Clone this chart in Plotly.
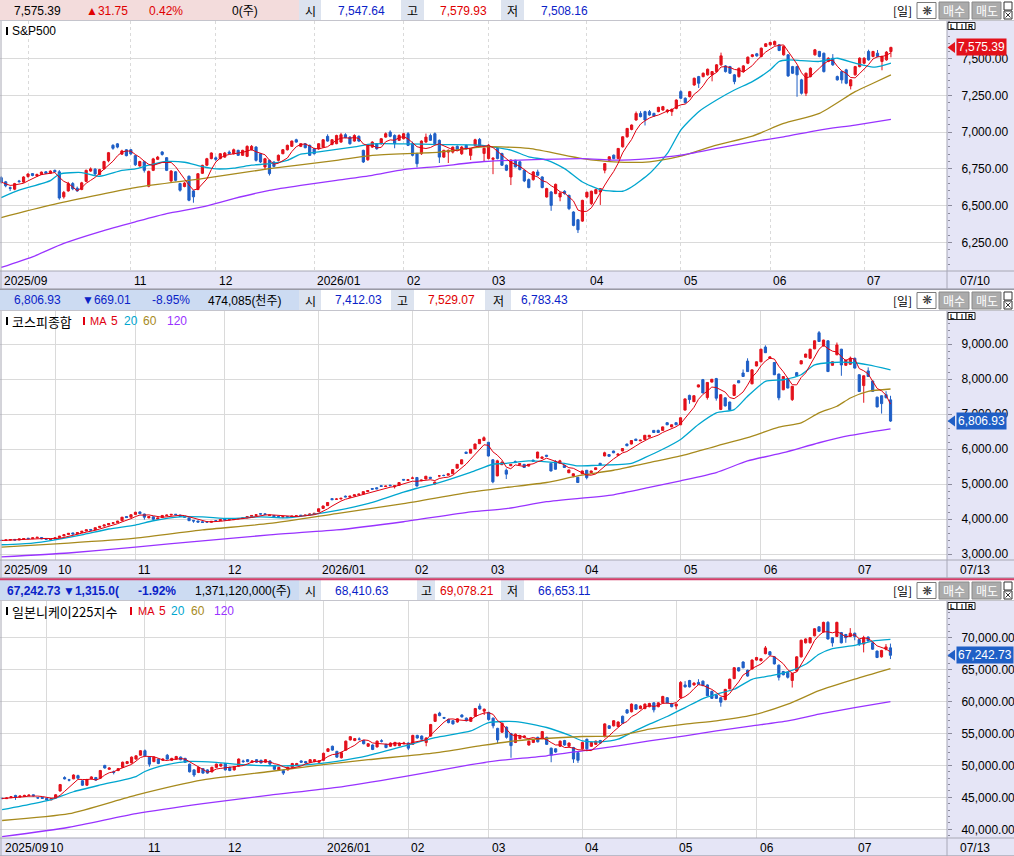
import pandas as pd
import plotly.graph_objects as go

W, H = 1014, 856
PLOT_R = 947  # right edge of the price area (px)

RED = "#E3111B"
BLUE = "#1F5FC6"
TXT_BLUE = "#0A22C8"
TXT_RED = "#E00000"
MA_COLOR = {5: "#E00010", 20: "#00A6CF", 60: "#A78A1D", 120: "#9933FF"}
GRID = "#DADADA"
BAND = "#E5E5F6"
NUM_FONT = "Liberation Sans, Noto Sans CJK KR, sans-serif"
KR_FONT = "Noto Sans CJK KR, Liberation Sans, sans-serif"

# ---------------- S&P500 (daily, 2025-09-23 .. 2026-07-10) ----------------
SPX_MONTH_DAYS = [6, 23, 19, 22, 20, 19, 22, 21, 20, 21, 7]
SPX_MONTH_LABELS = ["2025/09", "", "11", "12", "2026/01", "02", "03", "04", "05", "06", "07"]
SPX_OPEN = [
    6690, 6662, 6622, 6612, 6668, 6660,
    6698, 6718, 6702, 6712, 6730, 6720, 6740, 6730, 6560, 6600, 6650, 6618, 6610, 6665, 6735, 6748, 6712, 6750, 6805, 6910, 6920, 6850, 6880,
    6880, 6840, 6770, 6798, 6632, 6740, 6815, 6865, 6826, 6668, 6730, 6650, 6630, 6700, 6600, 6610, 6720, 6775, 6820,
    6825, 6820, 6830, 6864, 6853, 6876, 6842, 6835, 6880, 6898, 6853, 6763, 6808, 6797, 6808, 6853, 6880, 6903, 6948, 6903, 6921, 6910,
    6887, 6887, 6898, 6971, 6916, 6921, 6932, 6982, 6966, 6939, 6971, 6876, 6812, 6898, 6921, 6921, 6966, 7000, 6977, 6944,
    6955, 6989, 6921, 6853, 6853, 6932, 6977, 6989, 6944, 6830, 6864, 6864, 6903, 6853, 6910, 6842, 6910, 6950, 6855,
    6820, 6815, 6889, 6854, 6775, 6695, 6809, 6798, 6741, 6677, 6677, 6729, 6695, 6559, 6593, 6582, 6559, 6598, 6570, 6457, 6404, 6395,
    6559, 6514, 6582, 6593, 6741, 6809, 6843, 6820, 6900, 6968, 7018, 7082, 7127, 7139, 7139, 7127, 7139, 7150, 7139, 7139, 7161,
    7275, 7230, 7241, 7320, 7377, 7377, 7389, 7389, 7411, 7457, 7450, 7445, 7389, 7377, 7411, 7468, 7514, 7532, 7514, 7582,
    7593, 7593, 7593, 7525, 7525, 7445, 7445, 7355, 7264, 7377, 7525, 7548, 7536, 7480, 7502, 7377, 7411, 7423, 7314, 7389, 7445,
    7468, 7548, 7514, 7536, 7480, 7491, 7547.64,
]
SPX_HIGH = [
    6700, 6668, 6630, 6655, 6675, 6700,
    6720, 6722, 6718, 6732, 6735, 6740, 6745, 6742, 6600, 6662, 6660, 6630, 6662, 6745, 6760, 6755, 6750, 6805, 6865, 6918, 6925, 6880, 6885,
    6885, 6845, 6805, 6805, 6738, 6825, 6838, 6870, 6830, 6742, 6735, 6655, 6660, 6705, 6605, 6722, 6778, 6825, 6862,
    6835, 6858, 6865, 6875, 6888, 6880, 6880, 6910, 6912, 6905, 6858, 6825, 6812, 6800, 6848, 6885, 6915, 6942, 6955, 6925, 6925, 6915,
    6892, 6925, 6952, 6985, 6952, 6982, 6995, 6992, 6972, 6985, 6978, 6880, 6915, 6938, 6925, 6960, 6998, 7012, 6985, 6985,
    6995, 7000, 6935, 6860, 6944, 6990, 6990, 6998, 6950, 6880, 6882, 6902, 6910, 6905, 6915, 6892, 6955, 6960, 6895,
    6918, 6830, 6895, 6860, 6780, 6815, 6812, 6805, 6745, 6685, 6735, 6745, 6700, 6622, 6600, 6650, 6590, 6605, 6575, 6462, 6410, 6540,
    6595, 6602, 6615, 6620, 6790, 6836, 6848, 6892, 6972, 7028, 7052, 7140, 7142, 7145, 7150, 7132, 7172, 7178, 7155, 7160, 7222,
    7285, 7236, 7280, 7370, 7382, 7405, 7432, 7415, 7462, 7540, 7455, 7450, 7395, 7438, 7455, 7514, 7530, 7538, 7575, 7605,
    7614, 7622, 7598, 7588, 7530, 7450, 7450, 7362, 7405, 7440, 7565, 7552, 7540, 7508, 7530, 7384, 7416, 7430, 7360, 7450, 7508,
    7508, 7560, 7552, 7558, 7520, 7550, 7579.93,
]
SPX_LOW = [
    6650, 6625, 6600, 6605, 6655, 6655,
    6690, 6700, 6698, 6708, 6715, 6715, 6725, 6540, 6548, 6595, 6605, 6595, 6605, 6660, 6730, 6705, 6708, 6745, 6795, 6880, 6890, 6845, 6835,
    6845, 6770, 6765, 6725, 6625, 6735, 6810, 6840, 6735, 6660, 6665, 6595, 6625, 6530, 6520, 6605, 6715, 6770, 6815,
    6805, 6815, 6825, 6850, 6848, 6838, 6838, 6830, 6875, 6800, 6790, 6745, 6705, 6760, 6800, 6850, 6875, 6900, 6928, 6898, 6890, 6838,
    6848, 6880, 6895, 6935, 6910, 6918, 6928, 6958, 6915, 6935, 6932, 6790, 6805, 6892, 6880, 6915, 6962, 6965, 6890, 6940,
    6950, 6905, 6835, 6760, 6845, 6928, 6940, 6915, 6790, 6825, 6790, 6855, 6875, 6845, 6880, 6810, 6905, 6898, 6800,
    6815, 6714, 6815, 6770, 6735, 6640, 6760, 6740, 6660, 6618, 6670, 6700, 6618, 6555, 6465, 6578, 6530, 6575, 6470, 6360, 6314, 6390,
    6550, 6505, 6578, 6505, 6720, 6800, 6815, 6815, 6895, 6962, 7012, 7078, 7100, 7045, 7112, 7105, 7135, 7145, 7128, 7110, 7155,
    7225, 7195, 7236, 7315, 7300, 7372, 7384, 7345, 7405, 7450, 7405, 7395, 7325, 7370, 7405, 7462, 7508, 7512, 7508, 7578,
    7588, 7588, 7550, 7520, 7375, 7395, 7240, 7255, 7245, 7372, 7520, 7508, 7405, 7475, 7450, 7350, 7330, 7325, 7290, 7384, 7440,
    7462, 7485, 7508, 7508, 7420, 7485, 7508.16,
]
SPX_CLOSE = [
    6660, 6635, 6618, 6650, 6664, 6695,
    6715, 6705, 6712, 6728, 6720, 6735, 6730, 6552, 6590, 6650, 6615, 6600, 6655, 6740, 6750, 6715, 6745, 6800, 6860, 6890, 6898, 6872, 6840,
    6852, 6778, 6800, 6740, 6733, 6818, 6830, 6848, 6740, 6735, 6672, 6605, 6654, 6537, 6560, 6717, 6774, 6819, 6858,
    6815, 6853, 6858, 6855, 6880, 6842, 6876, 6903, 6903, 6808, 6797, 6819, 6718, 6767, 6842, 6880, 6910, 6939, 6932, 6921, 6894, 6842,
    6853, 6921, 6948, 6939, 6948, 6977, 6982, 6962, 6921, 6977, 6939, 6797, 6910, 6932, 6887, 6955, 6989, 6971, 6921, 6977,
    6989, 6910, 6842, 6785, 6939, 6966, 6944, 6921, 6830, 6876, 6876, 6898, 6880, 6898, 6887, 6887, 6948, 6904, 6890,
    6911, 6822, 6820, 6775, 6741, 6809, 6764, 6745, 6668, 6623, 6729, 6707, 6623, 6616, 6502, 6645, 6586, 6582, 6480, 6366, 6336, 6536,
    6591, 6598, 6609, 6616, 6786, 6832, 6820, 6889, 6968, 7025, 7048, 7127, 7105, 7082, 7116, 7109, 7168, 7173, 7150, 7155, 7218,
    7230, 7200, 7275, 7366, 7332, 7400, 7427, 7411, 7457, 7518, 7411, 7400, 7343, 7434, 7450, 7509, 7525, 7518, 7570, 7600,
    7609, 7616, 7555, 7582, 7382, 7400, 7389, 7264, 7400, 7434, 7559, 7514, 7411, 7502, 7457, 7355, 7355, 7332, 7355, 7445, 7502,
    7502, 7491, 7548, 7514, 7514, 7543.64, 7575.39,
]
# moving averages (day index, value)
SPX_MA20_IDX = [0, 4, 11, 13, 18, 22, 27, 30, 33, 37, 41, 45, 48, 52, 56, 60, 64, 67, 71, 79, 83, 90, 98, 107, 114,
                118, 122, 126, 130, 134, 137, 139, 141, 145, 149, 152, 156, 160, 164, 168, 172, 174, 176, 179, 183, 187,
                191, 195, 197, 199]
SPX_MA20 = [6555, 6605, 6670, 6715, 6725, 6700, 6740, 6750, 6775, 6800, 6795, 6765, 6750, 6755, 6775, 6785, 6808, 6850,
            6865, 6900, 6920, 6920, 6915, 6911, 6877, 6832, 6810, 6752, 6661, 6609, 6598, 6598, 6627, 6718, 6855, 7014,
            7139, 7218, 7286, 7343, 7423, 7480, 7490, 7486, 7480, 7502, 7468, 7441, 7450, 7468]
SPX_MA60_IDX = [0, 11, 30, 45, 60, 75, 83, 98, 108, 118, 130, 137, 145, 152, 160, 168, 175, 183, 191, 195, 199]
SPX_MA60 = [6419, 6503, 6623, 6684, 6751, 6808, 6842, 6864, 6900, 6889, 6820, 6798, 6798, 6836, 6911, 6973, 7059, 7127,
            7275, 7332, 7389]
SPX_MA120_IDX = [0, 7, 14, 22, 30, 37, 45, 52, 60, 67, 75, 83, 90, 98, 108, 130, 137, 145, 152, 160, 168, 175, 183, 191, 199]
SPX_MA120 = [6080, 6152, 6243, 6322, 6390, 6446, 6491, 6548, 6604, 6638, 6672, 6706, 6745, 6767, 6800, 6820, 6809, 6820,
             6843, 6889, 6934, 6968, 7014, 7048, 7086]
SPX_TICKS = [6250, 6500, 6750, 7000, 7250, 7500]

# ---------------- 코스피종합 (daily, 2025-09-15 .. 2026-07-13) ----------------
KS_MONTH_DAYS = [12, 18, 20, 21, 21, 17, 21, 22, 18, 21, 9]
KS_MONTH_LABELS = ["2025/09", "10", "11", "12", "2026/01", "02", "03", "04", "05", "06", "07"]
KS_OPEN = [
    3400, 3395, 3405, 3425, 3408, 3435, 3460, 3448, 3468, 3480, 3445, 3415,
    3435, 3480, 3525, 3565, 3610, 3585, 3625, 3665, 3710, 3700, 3765, 3805, 3840, 3885, 3905, 3960, 4080, 4060,
    4140, 4210, 4150, 4040, 4070, 4000, 4050, 4100, 4120, 4145, 4120, 4085, 4040, 3970, 3950, 3930, 3925, 3915, 3965, 3960,
    4000, 3985, 3990, 4015, 4020, 4040, 4080, 4110, 4160, 4155, 4110, 4110, 4080, 4055, 4075, 4065, 4090, 4115, 4105, 4125, 4150,
    4220, 4310, 4390, 4590, 4570, 4580, 4660, 4630, 4665, 4700, 4720, 4790, 4880, 4900, 4960, 4935, 4975, 4930, 4970, 5140, 5110,
    5170, 5195, 5100, 5150, 5200, 5010, 5240, 5255, 5260, 5300, 5460, 5580, 5920, 5890, 6010, 6160, 6250,
    6200, 5700, 5240, 5560, 5400, 5530, 5650, 5560, 5570, 5520, 5690, 5750, 5740, 5830, 5600, 5650, 5600, 5540, 5330, 5240, 5200,
    5300, 5400, 5330, 5420, 5600, 5810, 5850, 5950, 5830, 5950, 6150, 6150, 6290, 6240, 6280, 6350, 6540, 6540, 6540, 6760, 6640, 6760,
    6700, 7120, 7540, 7360, 7780, 7990, 7480, 7920, 8020, 7140, 7470, 7350, 7540, 7960, 8180, 8520, 7870, 8380,
    8500, 8920, 8600, 8480, 8150, 7700, 8020, 7420, 8190, 8440, 8630, 8600, 8870, 9330, 8950, 9100, 8400, 8700, 8860, 8400, 8430,
    8600, 8130, 7820, 8240, 7950, 7490, 7530, 7560, 7412.03,
]
KS_HIGH = [
    3410, 3415, 3425, 3430, 3445, 3455, 3465, 3475, 3490, 3485, 3450, 3438,
    3478, 3525, 3565, 3605, 3615, 3625, 3665, 3705, 3715, 3765, 3805, 3845, 3885, 3905, 3955, 4065, 4090, 4140,
    4215, 4225, 4160, 4090, 4080, 4050, 4120, 4130, 4150, 4150, 4125, 4090, 4045, 3975, 3960, 3935, 3935, 3945, 3975, 3998,
    4005, 4000, 4015, 4030, 4045, 4085, 4115, 4135, 4165, 4160, 4125, 4115, 4085, 4085, 4080, 4095, 4110, 4120, 4125, 4155, 4180,
    4310, 4390, 4490, 4600, 4600, 4610, 4680, 4670, 4705, 4725, 4795, 4825, 4890, 4910, 4970, 4955, 4985, 4970, 5055, 5150, 5135,
    5220, 5200, 5130, 5240, 5210, 5080, 5260, 5275, 5305, 5425, 5580, 5705, 5930, 6010, 6160, 6290, 6370,
    6210, 5720, 5700, 5660, 5450, 5580, 5680, 5600, 5580, 5580, 5700, 5930, 5790, 5840, 5620, 5690, 5700, 5560, 5420, 5310, 5210,
    5390, 5410, 5390, 5480, 5610, 5930, 5860, 5960, 5890, 6030, 6160, 6260, 6300, 6275, 6410, 6410, 6550, 6560, 6650, 6770, 6710, 6770,
    6910, 7450, 7560, 7540, 7850, 8010, 7920, 8010, 8040, 7570, 7480, 7360, 7850, 7970, 8280, 8600, 8280, 8510,
    8870, 8970, 8660, 8490, 8160, 8090, 8040, 7810, 8210, 8540, 8730, 8870, 9110, 9380, 9130, 9110, 8510, 9050, 8870, 8560, 8650,
    8620, 8140, 8110, 8340, 7960, 7500, 7540, 7660, 7529.07,
]
KS_LOW = [
    3385, 3390, 3400, 3398, 3405, 3430, 3440, 3445, 3462, 3432, 3418, 3410,
    3430, 3475, 3520, 3560, 3570, 3580, 3620, 3660, 3680, 3695, 3760, 3800, 3835, 3875, 3900, 3955, 4040, 4055,
    4135, 4150, 3990, 4030, 3985, 3995, 4045, 4095, 4115, 4120, 4070, 4050, 3950, 3900, 3910, 3900, 3905, 3910, 3945, 3955,
    3970, 3975, 3985, 4005, 4015, 4035, 4075, 4105, 4140, 4130, 4100, 4060, 4050, 4030, 4050, 4060, 4085, 4100, 4100, 4120, 4145,
    4215, 4305, 4385, 4550, 4560, 4575, 4630, 4625, 4660, 4695, 4715, 4785, 4850, 4860, 4930, 4930, 4955, 4880, 4965, 5110, 5105,
    5150, 4940, 5090, 5145, 5160, 4980, 5200, 5230, 5255, 5295, 5455, 5575, 5870, 5885, 6005, 6150, 6240,
    5790, 5030, 5230, 5550, 5150, 5520, 5610, 5550, 5470, 5510, 5650, 5740, 5735, 5790, 5370, 5420, 5590, 5470, 5320, 5200, 5040,
    5290, 5140, 5325, 5415, 5540, 5800, 5790, 5890, 5825, 5945, 6090, 6140, 6240, 6235, 6275, 6340, 6470, 6470, 6530, 6690, 6630, 6690,
    6690, 7110, 7300, 7350, 7770, 7600, 7420, 7910, 7390, 7120, 7220, 7100, 7530, 7890, 8070, 8210, 7860, 8370,
    8490, 8750, 8590, 8120, 7400, 7690, 7740, 7380, 8090, 8430, 8620, 8590, 8860, 9070, 8940, 8210, 8390, 8690, 8100, 8390, 8420,
    8310, 7640, 7330, 8070, 7640, 7200, 7020, 7450, 6783.43,
]
KS_CLOSE = [
    3395, 3410, 3420, 3405, 3440, 3450, 3445, 3470, 3486, 3440, 3425, 3430,
    3470, 3520, 3560, 3600, 3580, 3620, 3660, 3700, 3690, 3760, 3800, 3840, 3880, 3900, 3950, 4060, 4050, 4130,
    4200, 4160, 4060, 4080, 4000, 4040, 4110, 4120, 4140, 4130, 4080, 4060, 3960, 3950, 3920, 3910, 3920, 3940, 3960, 3990,
    3980, 3990, 4010, 4020, 4040, 4080, 4110, 4130, 4150, 4140, 4120, 4070, 4060, 4080, 4060, 4090, 4100, 4110, 4120, 4150, 4170,
    4300, 4380, 4480, 4560, 4580, 4600, 4640, 4660, 4700, 4720, 4790, 4820, 4860, 4870, 4940, 4950, 4960, 4960, 5050, 5120, 5130,
    5180, 4950, 5120, 5230, 5170, 5060, 5240, 5250, 5300, 5420, 5570, 5700, 5880, 6000, 6150, 6282, 6330,
    5810, 5070, 5670, 5620, 5290, 5570, 5620, 5590, 5480, 5570, 5660, 5920, 5780, 5800, 5380, 5430, 5670, 5480, 5410, 5300, 5050,
    5380, 5190, 5380, 5470, 5550, 5900, 5800, 5900, 5860, 6020, 6100, 6250, 6250, 6260, 6400, 6400, 6480, 6480, 6640, 6700, 6700, 6700,
    6900, 7440, 7420, 7530, 7840, 7610, 7910, 8000, 7460, 7560, 7240, 7130, 7840, 7900, 8080, 8220, 8270, 8500,
    8860, 8760, 8640, 8130, 7470, 8080, 7750, 7800, 8100, 8530, 8720, 8860, 9100, 9080, 9120, 8220, 8500, 8980, 8410, 8550, 8600,
    8320, 7650, 8100, 8080, 7655, 7210, 7305, 7475.94, 6806.93,
]
KS_MA20_IDX = [0, 7, 12, 18, 24, 30, 34, 40, 45, 51, 58, 64, 72, 79, 82, 90, 93, 97, 105, 110, 113, 118, 126, 129, 133,
               141, 144, 148, 152, 156, 160, 164, 167, 171, 175, 179, 182, 186, 190, 194, 199]
KS_MA20 = [3272, 3319, 3413, 3554, 3723, 3836, 3958, 4070, 4070, 4023, 4070, 4042, 4183, 4352, 4446, 4775, 4887, 5009,
           5338, 5573, 5600, 5667, 5600, 5525, 5543, 5600, 5761, 6000, 6282, 6708, 7040, 7134, 7513, 7940, 7987, 8130,
           8413, 8480, 8480, 8413, 8270]
KS_MA60_IDX = [0, 15, 30, 45, 60, 75, 90, 105, 113, 122, 129, 137, 145, 152, 160, 167, 174, 179, 183, 187, 190, 194, 199]
KS_MA60 = [3206, 3319, 3460, 3695, 3882, 4164, 4446, 4775, 4909, 5051, 5240, 5401, 5619, 5809, 6093, 6330, 6633, 6756,
           7040, 7229, 7466, 7655, 7722]
KS_MA120_IDX = [0, 15, 30, 45, 60, 75, 90, 105, 113, 122, 137, 145, 152, 160, 167, 175, 183, 190, 199]
KS_MA120 = [2925, 3037, 3206, 3385, 3554, 3695, 3930, 4211, 4305, 4502, 4700, 4909, 5098, 5335, 5667, 5903, 6187, 6396, 6585]
KS_TICKS = [3000, 4000, 5000, 6000, 7000, 8000, 9000]

# ---------------- 일본니케이225지수 (daily, 2025-09-16 .. 2026-07-13) ----------------
NK_MONTH_DAYS = [10, 22, 18, 22, 19, 18, 21, 21, 18, 22, 9]
NK_MONTH_LABELS = ["2025/09", "10", "11", "12", "2026/01", "02", "03", "04", "05", "06", "07"]
NK_OPEN = [
    44850, 44800, 44950, 45300, 45050, 45150, 45250, 45400, 44950, 45000,
    44850, 44600, 44900, 46000, 48100, 47750, 47900, 48400, 47600, 46900, 47900, 48100, 48000, 50000, 49400, 49000, 49200, 49700, 50300, 50400, 51000, 51600,
    52300, 51300, 50600, 51000, 50800, 51600, 50800, 51000, 51300, 51100, 50200, 49300, 48900, 49500, 49300, 49000, 49700, 49900,
    50300, 49700, 49300, 49900, 50700, 50900, 50500, 50900, 50800, 50500, 50700, 50000, 49300, 49200, 49300, 49700, 50000, 50700, 50600, 50500, 50600, 50500,
    50800, 52200, 53000, 52200, 51200, 52400, 54000, 53900, 54150, 53900, 53000, 53200, 52900, 53850, 53300, 53000, 53100, 53100, 53400,
    53500, 53300, 54700, 54600, 53600, 54600, 56900, 58200, 57500, 57200, 57000, 56800, 57900, 57400, 56900, 57700, 59300, 58500,
    58300, 57400, 55800, 55200, 56000, 55000, 53600, 54200, 54400, 53200, 53600, 54400, 54200, 54400, 52700, 52600, 53000, 53900, 53000, 52800, 52000,
    52600, 54100, 53000, 53300, 53900, 54500, 56200, 56200, 56100, 57700, 58700, 58400, 59500, 58900, 58900, 59200, 59800, 59200, 59800, 60600, 59700,
    59300, 60600, 62600, 63300, 62600, 63000, 63200, 62600, 61600, 61000, 60600, 60300, 62000, 63600, 65300, 66200, 64900, 65100,
    66500, 66400, 67500, 67800, 67000, 65700, 64700, 64600, 63300, 64800, 67000, 69200, 69200, 70300, 71700, 70900, 72400, 70000, 70200, 70800, 70500, 70200,
    70700, 69700, 69000, 70100, 69200, 67900, 67000, 68200, 68410.63,
]
NK_HIGH = [
    44950, 45000, 45200, 45400, 45300, 45400, 45450, 45450, 45050, 45050,
    44900, 44900, 45500, 47100, 48300, 47900, 48600, 48550, 47700, 47900, 48300, 48200, 49300, 50100, 49700, 49200, 49600, 50600, 50700, 51400, 51600, 52400,
    52500, 51400, 51400, 51100, 51100, 51800, 51200, 51500, 51400, 51200, 50300, 49400, 49800, 49600, 49400, 49800, 50300, 50300,
    50400, 49800, 49900, 51100, 50900, 51000, 50800, 51000, 50900, 51000, 50800, 50100, 49800, 49300, 49800, 50400, 50400, 50800, 50700, 51000, 51000, 50800,
    52000, 52700, 53100, 52300, 52100, 53900, 54600, 54300, 54400, 54000, 53500, 53300, 53900, 54100, 53400, 53600, 53700, 53600, 53700,
    53600, 54800, 54800, 54700, 54400, 56500, 58100, 58400, 57600, 57300, 57100, 57400, 58000, 57500, 57600, 59000, 59700, 58900,
    58400, 57500, 55900, 56700, 56100, 55100, 55000, 54700, 54700, 53900, 54100, 54500, 55400, 54500, 52800, 52700, 53900, 54000, 53600, 52900, 52100,
    53700, 54200, 53700, 53900, 54000, 56600, 56300, 57100, 56900, 57800, 58800, 59700, 59600, 59400, 59700, 59800, 59900, 59900, 60900, 60700, 59800,
    59700, 63200, 63200, 63400, 63000, 63500, 63300, 62700, 61700, 61100, 60700, 62000, 63600, 65400, 65400, 66300, 65000, 66600,
    67000, 66800, 68700, 67900, 67100, 65800, 64800, 64700, 64500, 67100, 69700, 69900, 70100, 71500, 71800, 72500, 72600, 70100, 72500, 70900, 70600, 71500,
    70800, 69800, 70300, 70200, 69300, 68000, 68100, 69000, 69078.21,
]
NK_LOW = [
    44700, 44750, 44900, 44600, 45000, 45100, 45200, 45150, 44800, 44750,
    44500, 44550, 44850, 45900, 47800, 47500, 47850, 47900, 46800, 46800, 47800, 47600, 47900, 49500, 49300, 48600, 49100, 49600, 50200, 50300, 50900, 51500,
    51400, 49800, 50500, 50200, 50700, 50900, 50700, 50900, 50800, 50400, 48900, 48200, 48800, 48700, 48700, 48900, 49600, 49800,
    49200, 49100, 49200, 49800, 50400, 50500, 50400, 50400, 50300, 50400, 50100, 49300, 49200, 48500, 49200, 49600, 49900, 50400, 50300, 50400, 50500, 50400,
    50700, 52100, 52300, 51200, 51100, 52300, 53900, 53800, 53900, 53300, 52900, 52400, 52800, 53600, 52700, 52900, 53000, 53000, 53300,
    52400, 53200, 54200, 54000, 53000, 54500, 56800, 57700, 57300, 56600, 56400, 56700, 57500, 56900, 56800, 57600, 58700, 57900,
    57000, 55800, 53400, 55100, 54200, 51200, 53500, 54100, 54300, 53100, 53500, 53600, 54100, 53200, 50500, 52000, 52900, 53100, 52900, 50400, 50400,
    52500, 52200, 52900, 53200, 53400, 54400, 55700, 56100, 56000, 56500, 58100, 58300, 58700, 58800, 58800, 59100, 58300, 59100, 59700, 59700, 59100,
    58800, 60500, 62200, 62200, 62500, 62600, 62400, 60800, 60400, 60400, 59200, 60200, 61900, 63500, 64700, 65200, 63900, 65000,
    66400, 66300, 67400, 67200, 65800, 63300, 64100, 63600, 62200, 64700, 66900, 69100, 69100, 70200, 70900, 70800, 69700, 68600, 70100, 69100, 69200, 70100,
    69600, 68700, 67700, 69400, 68100, 66800, 66900, 68000, 66653.11,
]
NK_CLOSE = [
    44820, 44900, 45100, 45000, 45200, 45300, 45350, 45250, 44900, 44850,
    44600, 44800, 45400, 47000, 47900, 47700, 48500, 48000, 46900, 47800, 48200, 47700, 49200, 49600, 49600, 48900, 49500, 50500, 50600, 51300, 51500, 52300,
    51500, 50200, 51300, 50300, 51000, 51000, 51100, 51400, 50900, 50500, 49000, 48500, 49700, 48800, 48800, 49700, 50200, 50200,
    49300, 49200, 49800, 51000, 50600, 50600, 50700, 50500, 50400, 50900, 50200, 49400, 49700, 48800, 49700, 50300, 50300, 50500, 50400, 50900, 50900, 50700,
    51900, 52600, 52400, 51300, 52000, 53800, 54500, 54200, 54100, 53400, 53400, 52500, 53800, 53800, 52800, 53500, 53600, 53500, 53500,
    52700, 54700, 54300, 54100, 54300, 56400, 58000, 57800, 57400, 56700, 56500, 57300, 57600, 57000, 57500, 58900, 58850, 58800,
    57200, 56200, 54000, 56600, 54400, 53100, 54900, 54600, 54600, 53800, 54000, 53700, 55300, 53300, 51600, 52100, 53800, 53200, 53500, 51000, 50800,
    53600, 52600, 53600, 53800, 53500, 56500, 55800, 57000, 56800, 56600, 58200, 59600, 58800, 59300, 59600, 59700, 58700, 59800, 60800, 59800, 59200,
    59600, 63000, 62300, 62300, 62900, 62700, 62500, 60900, 60500, 60500, 59900, 61900, 63500, 65300, 64800, 65300, 64000, 66500,
    66900, 66700, 68400, 67300, 65900, 63800, 64200, 63800, 64400, 67000, 69600, 69800, 70000, 71400, 71000, 72400, 69800, 69200, 72400, 69200, 70000, 70700,
    70200, 69000, 70000, 69500, 68200, 66900, 68000, 68557.73, 67242.73,
]
NK_MA20_IDX = [0, 7, 11, 16, 22, 30, 32, 37, 42, 48, 54, 60, 65, 71, 75, 82, 90, 97, 105, 109, 115, 122, 127, 130, 134,
               138, 141, 145, 149, 153, 157, 160, 164, 168, 172, 176, 180, 183, 186, 191, 195, 199]
NK_MA20 = [43070, 44020, 44660, 45880, 46940, 48260, 49050, 50110, 50640, 50480, 50110, 49950, 49950, 50270, 50640, 51540,
           53020, 54340, 55400, 56700, 56870, 55940, 54740, 53850, 53700, 54110, 55150, 56460, 57660, 59060, 60470, 61150,
           61930, 63490, 64010, 64640, 65840, 67400, 68280, 68800, 69480, 69740]
NK_MA60_IDX = [0, 15, 30, 45, 60, 72, 82, 97, 107, 115, 130, 138, 145, 153, 160, 168, 176, 183, 191, 199]
NK_MA60 = [41380, 42440, 45350, 47730, 49050, 50110, 50900, 51960, 53070, 53850, 54530, 54630, 55680, 56460, 56980, 57860,
           59600, 61700, 63500, 65160]
NK_MA120_IDX = [0, 15, 30, 45, 60, 75, 90, 105, 111, 122, 130, 138, 145, 153, 160, 168, 176, 183, 191, 199]
NK_MA120 = [38840, 40320, 42440, 44020, 45350, 46560, 48260, 50110, 50740, 51510, 52290, 53070, 53850, 54630, 55420, 56200,
            56980, 58020, 59060, 60000]
NK_TICKS = [40000, 45000, 50000, 55000, 60000, 65000, 70000]

# header texts
SPX_HEAD = [("7,575.39", "#000"), ("▲31.75", TXT_RED), ("0.42%", TXT_RED), ("0(주)", "#000")]
SPX_OHL = ["7,547.64", "7,579.93", "7,508.16"]
KS_HEAD = [("6,806.93", TXT_BLUE), ("▼669.01", TXT_BLUE), ("-8.95%", TXT_BLUE), ("474,085(천주)", "#000")]
KS_OHL = ["7,412.03", "7,529.07", "6,783.43"]
NK_HEAD = [("<b>67,242.73</b>", TXT_BLUE), ("<b>▼1,315.0(</b>", TXT_BLUE), ("<b>-1.92%</b>", TXT_BLUE), ("1,371,120,000(주)", "#000")]
NK_OHL = ["68,410.63", "69,078.21", "66,653.11"]


def fx(p):
    return p / W


def fy(p):
    return 1 - p / H


shapes = []
notes = []


def rect(x0, y0, x1, y1, fill, line=None, layer="below"):
    shapes.append(dict(type="rect", xref="paper", yref="paper", x0=fx(x0), x1=fx(x1), y0=fy(y1), y1=fy(y0),
                       fillcolor=fill, line=dict(width=1 if line else 0, color=line or fill), layer=layer))


def seg(x0, y0, x1, y1, color, width=1):
    shapes.append(dict(type="line", xref="paper", yref="paper", x0=fx(x0), x1=fx(x1), y0=fy(y0), y1=fy(y1),
                       line=dict(color=color, width=width), layer="above"))


def text(x, y, s, color="#000", size=12, anchor="left", font=NUM_FONT):
    notes.append(dict(x=fx(x), y=fy(y), xref="paper", yref="paper", text=s, showarrow=False,
                      xanchor=anchor, yanchor="middle", font=dict(family=font, size=size, color=color)))


panels = [
    dict(o=SPX_OPEN, h=SPX_HIGH, l=SPX_LOW, c=SPX_CLOSE, days=SPX_MONTH_DAYS, labels=SPX_MONTH_LABELS,
         ma=[(20, SPX_MA20_IDX, SPX_MA20), (60, SPX_MA60_IDX, SPX_MA60), (120, SPX_MA120_IDX, SPX_MA120)],
         ticks=SPX_TICKS, minor=50, head=0, top=21, bottom=271, band=(271, 289), yr=(6056, 7755),
         x0=1.2, step=4.471, dash="dot", end="07/10", last=RED, title="S&P500", legend=None,
         hbg="#F3DCDC", head_items=SPX_HEAD, head_x=[12, 84, 147, 230], ohl=SPX_OHL,
         cells=[(299, 321), (401, 424), (501, 524)], ohl_x=[336, 438, 539]),
    dict(o=KS_OPEN, h=KS_HIGH, l=KS_LOW, c=KS_CLOSE, days=KS_MONTH_DAYS, labels=KS_MONTH_LABELS,
         ma=[(20, KS_MA20_IDX, KS_MA20), (60, KS_MA60_IDX, KS_MA60), (120, KS_MA120_IDX, KS_MA120)],
         ticks=KS_TICKS, minor=200, head=290, top=311, bottom=560, band=(560, 578), yr=(2837, 9951),
         x0=1.4, step=4.468, dash="solid", end="07/13", last=BLUE, title="코스피종합",
         legend=[(88, "MA", 5), (109, "5", 5), (122, "20", 20), (141, "60", 60), (165, "120", 120)], bar=83,
         hbg="#CCDBF2", head_items=KS_HEAD, head_x=[12, 80, 150, 206], ohl=KS_OHL,
         cells=[(299, 321), (391, 414), (485, 511)], ohl_x=[333, 426, 519]),
    dict(o=NK_OPEN, h=NK_HIGH, l=NK_LOW, c=NK_CLOSE, days=NK_MONTH_DAYS, labels=NK_MONTH_LABELS,
         ma=[(20, NK_MA20_IDX, NK_MA20), (60, NK_MA60_IDX, NK_MA60), (120, NK_MA120_IDX, NK_MA120)],
         ticks=NK_TICKS, minor=1000, head=580, top=601, bottom=838, band=(838, 856), yr=(38638, 75746),
         x0=2.1, step=4.464, dash="solid", end="07/13", last=BLUE, title="일본니케이225지수",
         legend=[(136, "MA", 5), (157, "5", 5), (169, "20", 20), (189, "60", 60), (212, "120", 120)], bar=130,
         hbg="#CCDBF2", head_items=NK_HEAD, head_x=[5, 61, 136, 193], ohl=NK_OHL,
         cells=[(299, 321), (417, 435), (501, 524)], ohl_x=[333, 438, 536]),
]

fig = go.Figure()
layout = {}

for n, p in enumerate(panels, start=1):
    sfx = "" if n == 1 else str(n)
    xa, ya = "x" + sfx, "y" + sfx
    idx = list(range(len(p["c"])))

    fig.add_trace(go.Candlestick(
        x=idx, open=p["o"], high=p["h"], low=p["l"], close=p["c"], xaxis=xa, yaxis=ya,
        increasing=dict(line=dict(color=RED, width=1), fillcolor=RED),
        decreasing=dict(line=dict(color=BLUE, width=1), fillcolor=BLUE),
        whiskerwidth=0, hoverinfo="skip", showlegend=False))

    for period, mi, mv in p["ma"]:
        fig.add_trace(go.Scatter(x=mi, y=mv, mode="lines", xaxis=xa, yaxis=ya, hoverinfo="skip",
                                 line=dict(color=MA_COLOR[period], width=1.3, shape="spline", smoothing=0.6),
                                 showlegend=False))
    ma5 = pd.Series(p["c"]).rolling(5, min_periods=1).mean()
    fig.add_trace(go.Scatter(x=idx, y=ma5, mode="lines", xaxis=xa, yaxis=ya, hoverinfo="skip",
                             line=dict(color=MA_COLOR[5], width=1), showlegend=False))

    starts = [0]
    for d in p["days"][:-1]:
        starts.append(starts[-1] + d)

    left = (0 - p["x0"]) / p["step"]
    right = (PLOT_R - p["x0"]) / p["step"]
    layout["xaxis" + sfx] = dict(
        domain=[0, fx(PLOT_R)], range=[left, right], anchor=ya, showticklabels=False,
        tickmode="array", tickvals=starts[1:], ticks="", showgrid=True, gridcolor=GRID, griddash=p["dash"],
        zeroline=False, showline=False, rangeslider=dict(visible=False), fixedrange=True)
    layout["yaxis" + sfx] = dict(
        domain=[fy(p["bottom"]), fy(p["top"])], range=list(p["yr"]), anchor=xa, side="right",
        tickmode="array", tickvals=p["ticks"], ticktext=[f"{v:,.2f}" for v in p["ticks"]],
        tickfont=dict(family=NUM_FONT, size=12, color="#000"), ticks="outside", ticklen=4,
        tickcolor="#8C8C9C", ticklabelstandoff=7,
        minor=dict(tickmode="linear", tick0=0, dtick=p["minor"], ticks="outside", ticklen=2, tickcolor="#8C8C9C"),
        showgrid=True, gridcolor=GRID, zeroline=False, showline=False, fixedrange=True)

    # bands: right axis, date strip
    rect(PLOT_R, p["top"], W, p["bottom"], BAND)
    b0, b1 = p["band"]
    rect(0, b0, W, b1, BAND)
    seg(0, b0, W, b0, "#A8A8B4")
    seg(0, b1, W, b1, "#8E8E9A")
    seg(PLOT_R, p["top"], PLOT_R, b1, "#A8A8B8")
    seg(1, p["top"], 1, b1, "#A8A8B4")
    bc = (b0 + b1) / 2 + 0.5
    for s, lab in zip(starts, p["labels"]):
        if lab:
            notes.append(dict(x=s, y=fy(bc), xref=xa, yref="paper", text=lab, showarrow=False, xanchor="left",
                              yanchor="middle", xshift=1, font=dict(family=NUM_FONT, size=12, color="#000")))
    text(958, bc, p["end"])

    # header strip
    hy = p["head"]
    rect(0, hy, 299, hy + 20.5, p["hbg"])
    for cx0, cx1 in p["cells"]:
        rect(cx0, hy, cx1, hy + 20.5, "#DCE3EF")
    seg(0, hy + 20.5, W, hy + 20.5, "#C4C4CC")
    hc = hy + 10.5
    for (s, col), x in zip(p["head_items"], p["head_x"]):
        text(x, hc, s, col)
    for (cx0, cx1), lab in zip(p["cells"], ["시", "고", "저"]):
        text((cx0 + cx1) / 2, hc, lab, "#000", 12, "center", KR_FONT)
    for s, x, col in zip(p["ohl"], p["ohl_x"], [TXT_BLUE, TXT_RED, TXT_BLUE]):
        text(x, hc, s, col)
    text(902, hc, "[일]", "#000", 12, "center", KR_FONT)
    rect(917, hy + 2.5, 936, hy + 18.5, "#FFFFFF", "#7A7A7A", "above")
    text(926.5, hc, "❋", "#333", 12, "center", "DejaVu Sans")
    for bx0, bx1, lab in [(939, 969, "매수"), (972, 1001, "매도")]:
        rect(bx0, hy + 2, bx1, hy + 19, "#ABABAB", "#8A8A8A", "above")
        text((bx0 + bx1) / 2, hc, lab, "#FFFFFF", 12, "center", KR_FONT)
    rect(1004, hy + 2, 1012, hy + 10, "#FFFFFF", "#333", "above")
    rect(1004, hy + 11, 1012, hy + 19, "#FFFFFF", "#333", "above")
    seg(1005.5, hy + 12.5, 1010.5, hy + 17.5, "#333")
    seg(1005.5, hy + 17.5, 1010.5, hy + 12.5, "#333")

    # L I R box
    for k, lab in enumerate("LIR"):
        rect(948 + 9 * k, p["top"] + 1.5, 957 + 9 * k, p["top"] + 8.5, "#FFFFFF", "#222", "above")
        text(952.5 + 9 * k, p["top"] + 5.2, f"<b>{lab}</b>", "#000", 7, "center")

    # title / legend
    ty = p["top"] + 10
    rect(6, ty - 4, 8, ty + 4, "#000", None, "above")
    text(10, ty, p["title"], "#000", 12 if n == 1 else 13, "left", NUM_FONT if n == 1 else KR_FONT)
    if p["legend"]:
        rect(p["bar"], ty - 4, p["bar"] + 2, ty + 4, MA_COLOR[5], None, "above")
        for x, lab, period in p["legend"]:
            text(x, ty, lab, MA_COLOR[period], 11 if lab == "MA" else 12)

    # last price marker
    last = p["c"][-1]
    r0, r1 = p["yr"]
    py = fy(p["bottom"]) + (last - r0) / (r1 - r0) * (fy(p["top"]) - fy(p["bottom"]))
    d = 5.5 / H
    shapes.append(dict(type="path", xref="paper", yref="paper",
                       path=f"M {fx(947.5)},{py} L {fx(955)},{py + d} L {fx(955)},{py - d} Z",
                       fillcolor=p["last"], line=dict(width=0), layer="above"))
    notes.append(dict(x=fx(956), y=last, xref="paper", yref=ya, text=f"{last:,.2f}", showarrow=False,
                      xanchor="left", yanchor="middle", bgcolor=p["last"], borderpad=1,
                      font=dict(family=NUM_FONT, size=12, color="#FFFFFF")))

# panel separators
seg(0, 289.5, W, 289.5, "#9A9AA6")
seg(0, 579.3, W, 579.3, "#D43C6A", 2)

fig.update_layout(
    width=W, height=H, margin=dict(l=0, r=0, t=0, b=0), autosize=False,
    paper_bgcolor="#FFFFFF", plot_bgcolor="#FFFFFF", showlegend=False,
    shapes=shapes, annotations=notes, **layout)

fig.write_html("out.html", config={"displayModeBar": False, "staticPlot": True},
               post_script="document.body.style.margin='0px';document.body.style.padding='0px';")
